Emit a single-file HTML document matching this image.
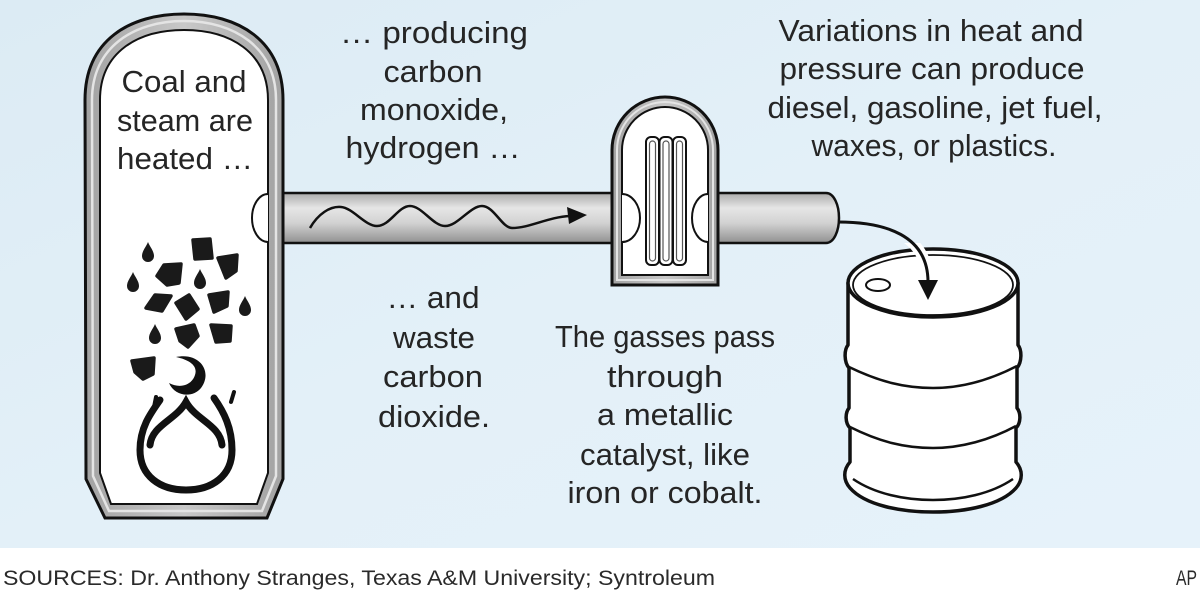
<!DOCTYPE html>
<html>
<head>
<meta charset="utf-8">
<style>
  html,body{margin:0;padding:0;background:#fff;}
  svg{display:block;}
  .t{font-family:"Liberation Sans",Arial,sans-serif;font-size:31px;fill:#252525;text-anchor:middle;}
  .s{font-family:"Liberation Sans",Arial,sans-serif;font-size:21px;fill:#2a2a2a;}
</style>
</head>
<body>
<svg width="1200" height="593" viewBox="0 0 1200 593" xmlns="http://www.w3.org/2000/svg">
  <defs>
    <linearGradient id="bg" x1="0" y1="0" x2="1" y2="1">
      <stop offset="0" stop-color="#dcebf4"/>
      <stop offset="0.5" stop-color="#e3f0f8"/>
      <stop offset="1" stop-color="#e6f2fa"/>
    </linearGradient>
    <linearGradient id="pipe" x1="0" y1="0" x2="0" y2="1">
      <stop offset="0" stop-color="#ababab"/>
      <stop offset="0.3" stop-color="#e6e6e6"/>
      <stop offset="0.6" stop-color="#d2d2d2"/>
      <stop offset="1" stop-color="#909090"/>
    </linearGradient>
    <linearGradient id="band" x1="0" y1="0" x2="1" y2="0">
      <stop offset="0" stop-color="#a2a2a2"/>
      <stop offset="0.5" stop-color="#c8c8c8"/>
      <stop offset="1" stop-color="#a2a2a2"/>
    </linearGradient>
    <clipPath id="rimclip"><rect x="895" y="243" width="50" height="18"/></clipPath>
  </defs>

  <!-- background -->
  <rect x="0" y="0" width="1200" height="548" fill="url(#bg)"/>
  <rect x="0" y="548" width="1200" height="45" fill="#ffffff"/>

  <!-- pipe A -->
  <rect x="280" y="193" width="334" height="50" fill="url(#pipe)"/>
  <line x1="280" y1="193" x2="614" y2="193" stroke="#111" stroke-width="2.5"/>
  <line x1="280" y1="243" x2="614" y2="243" stroke="#111" stroke-width="2.5"/>

  <!-- pipe B -->
  <path d="M716,193 L826,193 C834,193 839,205 839,218 C839,231 834,243 826,243 L716,243 Z" fill="url(#pipe)"/>
  <path d="M716,193 L826,193 C834,193 839,205 839,218 C839,231 834,243 826,243 L716,243" fill="none" stroke="#111" stroke-width="2.5"/>

  <!-- vessel -->
  <path d="M85,100 C85,40 130,14 184,14 C238,14 283,40 283,100 L283,479 L267,518 L105,518 L86,479 Z" fill="url(#band)" stroke="#111" stroke-width="3"/>
  <path d="M92,100 C92,47 134,21 184,21 C234,21 276,47 276,100 L276,476 L262,511 L109,511 L93,476 Z" fill="none" stroke="#e4e4e4" stroke-width="2.5"/>
  <path d="M100,100 C100,52 138,30 184,30 C230,30 268,52 268,100 L268,473 L257,504 L111,504 L100,473 Z" fill="#ffffff" stroke="#111" stroke-width="2"/>
  <path d="M268,194 A16,24 0 0 0 268,242" fill="#fff" stroke="#111" stroke-width="2"/>

  <!-- catalyst -->
  <path d="M612,285 L612,150 A53,53 0 0 1 718,150 L718,285 Z" fill="url(#band)" stroke="#111" stroke-width="3"/>
  <path d="M617,280 L617,150 A48,48 0 0 1 713,150 L713,280 Z" fill="none" stroke="#e4e4e4" stroke-width="2"/>
  <path d="M622,275 L622,150 A43,43 0 0 1 708,150 L708,275 Z" fill="#fff" stroke="#111" stroke-width="2"/>
  <path d="M622,194 A18,24 0 0 1 622,242" fill="#fff" stroke="#111" stroke-width="2"/>
  <path d="M708,194 A16,24 0 0 0 708,242" fill="#fff" stroke="#111" stroke-width="2"/>
  <!-- coil -->
  <g fill="#fff" stroke="#111" stroke-width="2">
    <rect x="646" y="137" width="13" height="128" rx="5"/>
    <rect x="659.5" y="137" width="13" height="128" rx="5"/>
    <rect x="673" y="137" width="13" height="128" rx="5"/>
  </g>
  <g fill="none" stroke="#555" stroke-width="1.2">
    <rect x="649.5" y="141" width="6" height="120" rx="3"/>
    <rect x="663" y="141" width="6" height="120" rx="3"/>
    <rect x="676.5" y="141" width="6" height="120" rx="3"/>
  </g>

  <!-- wave arrow -->
  <path d="M310,228 C318,214 330,206 341,207 C353,208 365,226 377,226 C390,226 398,206 410,206 C422,206 433,226 445,226 C458,226 470,206 482,206 C494,206 502,228 512,228 C530,228 548,217 570,216" fill="none" stroke="#111" stroke-width="2.5"/>
  <polygon points="587,215 567,207 569,224" fill="#111"/>

  <!-- coal pieces -->
  <g fill="#1a1a1a" stroke="#1a1a1a" stroke-width="3.5" stroke-linejoin="round">
    <polygon points="193,240 210,239 212,258 195,259"/>
    <polygon points="218,258 237,255 236,271 226,278"/>
    <polygon points="157,276 164,265 181,264 179,283 167,285"/>
    <polygon points="146,308 155,295 171,296 162,311"/>
    <polygon points="176,303 189,295 198,309 186,319"/>
    <polygon points="209,295 228,292 227,306 214,312"/>
    <polygon points="176,329 194,325 198,336 188,347 180,341"/>
    <polygon points="211,325 231,326 230,341 216,342"/>
    <polygon points="132,361 154,358 153,374 143,379 135,372"/>
  </g>
  <g fill="#1a1a1a">
    <path d="M148,242 C150,247 154,251 154,256 A6,6 0 0 1 142,256 C142,251 146,247 148,242 Z"/>
    <path d="M133,272 C135,277 139,281 139,286 A6,6 0 0 1 127,286 C127,281 131,277 133,272 Z"/>
    <path d="M200,269 C202,274 206,278 206,283 A6,6 0 0 1 194,283 C194,278 198,274 200,269 Z"/>
    <path d="M245,296 C247,301 251,305 251,310 A6,6 0 0 1 239,310 C239,305 243,301 245,296 Z"/>
    <path d="M155,324 C157,329 161,333 161,338 A6,6 0 0 1 149,338 C149,333 153,329 155,324 Z"/>
  </g>

  <!-- flame -->
  <g fill="none" stroke="#111" stroke-width="7" stroke-linecap="round">
    <path d="M160,400 C150,414 140,428 140,450 C140,476 160,490 186,490 C212,490 232,476 232,450 C232,428 224,412 214,398"/>
    <path d="M150,445 C152,425 176,420 186,402 C196,420 220,425 222,445"/>
  </g>
  <path d="M176,357 C200,352 213,372 201,388 C193,398 175,397 169,383 C180,389 192,385 195,375 C198,366 190,360 176,357 Z" fill="#111"/>
  <path d="M156,397 L154,407" stroke="#111" stroke-width="4" stroke-linecap="round"/>
  <path d="M234,392 L231,402" stroke="#111" stroke-width="4" stroke-linecap="round"/>

  <!-- barrel -->
  <path d="M848,283 L848,345 C844,350 844,362 849,368 L849,408 C845,413 845,423 850,428 L850,462 C843,470 843,480 850,488 C865,505 900,512 933,512 C966,512 1001,505 1016,488 C1023,480 1023,470 1016,462 L1016,428 C1021,423 1021,413 1017,408 L1017,368 C1022,362 1022,350 1018,345 L1018,283 Z" fill="#fff" stroke="#111" stroke-width="3.5" stroke-linejoin="round"/>
  <path d="M849,367 C880,382 905,388 933,388 C961,388 990,380 1017,366" fill="none" stroke="#111" stroke-width="2.5"/>
  <path d="M850,427 C880,442 905,448 933,448 C961,448 990,440 1016,426" fill="none" stroke="#111" stroke-width="2.5"/>
  <path d="M853,479 C875,494 905,500 933,500 C961,500 991,494 1013,479" fill="none" stroke="#111" stroke-width="2.5"/>
  <ellipse cx="933" cy="283" rx="85" ry="34" fill="#fff" stroke="#111" stroke-width="3.5"/>
  <ellipse cx="933" cy="285" rx="80" ry="30" fill="none" stroke="#111" stroke-width="1.8"/>
  <ellipse cx="878" cy="285" rx="12" ry="6" fill="#fff" stroke="#111" stroke-width="2"/>

  <!-- barrel arrow -->
  <path d="M838,222 C885,222 928,235 928,282" fill="none" stroke="#fff" stroke-width="11" clip-path="url(#rimclip)"/>
  <path d="M838,222 C885,222 928,235 928,282" fill="none" stroke="#111" stroke-width="3"/>
  <polygon points="918,280 938,280 928,300" fill="#111"/>

  <!-- texts -->
  <g lengthAdjust="spacingAndGlyphs">
  <text class="t" x="184" y="92" textLength="125" lengthAdjust="spacingAndGlyphs">Coal and</text>
  <text class="t" x="185" y="131" textLength="136" lengthAdjust="spacingAndGlyphs">steam are</text>
  <text class="t" x="185" y="169" textLength="136" lengthAdjust="spacingAndGlyphs">heated …</text>

  <text class="t" x="434" y="43" textLength="188" lengthAdjust="spacingAndGlyphs">… producing</text>
  <text class="t" x="433" y="82" textLength="99" lengthAdjust="spacingAndGlyphs">carbon</text>
  <text class="t" x="434" y="120" textLength="148" lengthAdjust="spacingAndGlyphs">monoxide,</text>
  <text class="t" x="433" y="158" textLength="175" lengthAdjust="spacingAndGlyphs">hydrogen …</text>

  <text class="t" x="931" y="41" textLength="305" lengthAdjust="spacingAndGlyphs">Variations in heat and</text>
  <text class="t" x="932" y="79" textLength="305" lengthAdjust="spacingAndGlyphs">pressure can produce</text>
  <text class="t" x="935" y="118" textLength="335" lengthAdjust="spacingAndGlyphs">diesel, gasoline, jet fuel,</text>
  <text class="t" x="934" y="156" textLength="245" lengthAdjust="spacingAndGlyphs">waxes, or plastics.</text>

  <text class="t" x="433" y="308" textLength="93" lengthAdjust="spacingAndGlyphs">… and</text>
  <text class="t" x="434" y="348" textLength="82" lengthAdjust="spacingAndGlyphs">waste</text>
  <text class="t" x="433" y="387" textLength="100" lengthAdjust="spacingAndGlyphs">carbon</text>
  <text class="t" x="434" y="427" textLength="112" lengthAdjust="spacingAndGlyphs">dioxide.</text>

  <text class="t" x="665" y="347" textLength="220" lengthAdjust="spacingAndGlyphs">The gasses pass</text>
  <text class="t" x="665" y="387" textLength="116" lengthAdjust="spacingAndGlyphs">through</text>
  <text class="t" x="665" y="425" textLength="136" lengthAdjust="spacingAndGlyphs">a metallic</text>
  <text class="t" x="665" y="465" textLength="170" lengthAdjust="spacingAndGlyphs">catalyst, like</text>
  <text class="t" x="665" y="503" textLength="195" lengthAdjust="spacingAndGlyphs">iron or cobalt.</text>
  </g>

  <text class="s" x="3" y="585" textLength="712" lengthAdjust="spacingAndGlyphs">SOURCES: Dr. Anthony Stranges, Texas A&amp;M University; Syntroleum</text>
  <text class="s" x="1176" y="585" textLength="21" lengthAdjust="spacingAndGlyphs">AP</text>
</svg>
</body>
</html>
